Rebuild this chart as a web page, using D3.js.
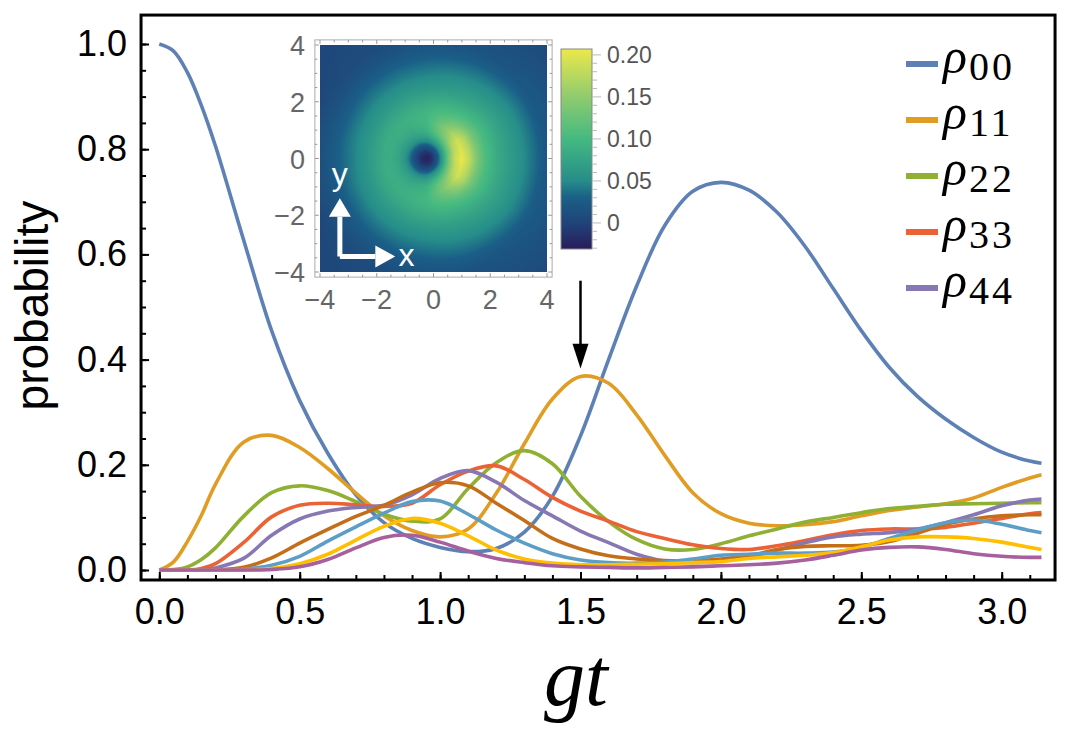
<!DOCTYPE html>
<html>
<head>
<meta charset="utf-8">
<script src="https://cdn.jsdelivr.net/npm/d3@7"></script>
<style>
  body { margin: 0; background: #fff; }
  svg { display: block; }
</style>
</head>
<body>
<div id="chart"></div>
<script>
// ---- data ----
const tValues = [0, 0.05, 0.1, 0.15, 0.2, 0.3, 0.4, 0.5, 0.6, 0.7, 0.8, 0.9, 1.0, 1.1, 1.2, 1.3, 1.4, 1.5,
  1.6, 1.7, 1.8, 1.9, 2.0, 2.1, 2.2, 2.3, 2.4, 2.5, 2.6, 2.7, 2.8, 2.9, 3.0, 3.1, 3.1416];

const rho00 = [1.000, 0.987, 0.946, 0.883, 0.806, 0.628, 0.455, 0.322, 0.222, 0.143, 0.090, 0.060, 0.043, 0.035, 0.041, 0.072, 0.140, 0.255,
  0.400, 0.540, 0.655, 0.720, 0.737, 0.722, 0.680, 0.615, 0.535, 0.455, 0.385, 0.330, 0.287, 0.252, 0.224, 0.207, 0.203];
const rho11 = [0, 0.015, 0.054, 0.104, 0.163, 0.243, 0.256, 0.233, 0.193, 0.146, 0.103, 0.075, 0.063, 0.078, 0.146, 0.240, 0.325, 0.368,
  0.355, 0.295, 0.218, 0.147, 0.107, 0.089, 0.084, 0.086, 0.092, 0.103, 0.113, 0.120, 0.126, 0.137, 0.157, 0.175, 0.181];
const rho22 = [0, 0.001, 0.006, 0.020, 0.042, 0.102, 0.147, 0.160, 0.151, 0.130, 0.106, 0.093, 0.097, 0.155, 0.204, 0.227, 0.202, 0.140,
  0.092, 0.058, 0.040, 0.039, 0.050, 0.065, 0.078, 0.091, 0.100, 0.109, 0.117, 0.121, 0.125, 0.126, 0.127, 0.128, 0.128];
const rho33 = [0, 0, 0, 0.003, 0.012, 0.052, 0.101, 0.123, 0.127, 0.124, 0.121, 0.127, 0.162, 0.188, 0.198, 0.172, 0.138, 0.112,
  0.093, 0.073, 0.060, 0.048, 0.041, 0.039, 0.046, 0.056, 0.067, 0.075, 0.078, 0.078, 0.081, 0.089, 0.098, 0.107, 0.109];
const rho44 = [0, 0, 0, 0, 0.004, 0.022, 0.066, 0.097, 0.112, 0.119, 0.123, 0.143, 0.174, 0.189, 0.167, 0.132, 0.103, 0.074,
  0.052, 0.030, 0.017, 0.014, 0.017, 0.025, 0.038, 0.052, 0.063, 0.068, 0.071, 0.078, 0.090, 0.105, 0.122, 0.133, 0.135];
const rho55 = [0, 0, 0, 0, 0, 0.005, 0.023, 0.051, 0.077, 0.102, 0.123, 0.148, 0.166, 0.160, 0.127, 0.094, 0.060, 0.040,
  0.027, 0.021, 0.018, 0.018, 0.021, 0.027, 0.039, 0.045, 0.046, 0.047, 0.054, 0.070, 0.087, 0.097, 0.103, 0.105, 0.105];
const rho66 = [0, 0, 0, 0, 0, 0.002, 0.009, 0.026, 0.055, 0.082, 0.108, 0.130, 0.131, 0.106, 0.076, 0.051, 0.031, 0.019,
  0.014, 0.013, 0.015, 0.021, 0.028, 0.030, 0.032, 0.032, 0.034, 0.043, 0.060, 0.076, 0.090, 0.095, 0.087, 0.075, 0.071];
const rho77 = [0, 0, 0, 0, 0, 0, 0.003, 0.012, 0.030, 0.057, 0.083, 0.098, 0.089, 0.065, 0.038, 0.021, 0.013, 0.010,
  0.010, 0.011, 0.012, 0.014, 0.016, 0.022, 0.025, 0.028, 0.033, 0.044, 0.057, 0.063, 0.063, 0.060, 0.053, 0.043, 0.039];
const rho88 = [0, 0, 0, 0, 0, 0, 0.001, 0.006, 0.020, 0.042, 0.062, 0.066, 0.053, 0.036, 0.022, 0.014, 0.008, 0.006,
  0.005, 0.004, 0.005, 0.006, 0.008, 0.010, 0.013, 0.019, 0.028, 0.038, 0.043, 0.044, 0.039, 0.031, 0.026, 0.024, 0.024];

const seriesList = [rho00, rho11, rho22, rho33, rho44, rho55, rho66, rho77, rho88];
const seriesColors = ["#5E81B5", "#E19C24", "#8FB032", "#EB6235", "#8778B3",
  "#C56E1A", "#5D9EC7", "#FFBF00", "#A5609D"];
const legendSubs = ["00", "11", "22", "33", "44"];

const xTicks = [0, 0.5, 1.0, 1.5, 2.0, 2.5, 3.0];
const yTicks = [0, 0.2, 0.4, 0.6, 0.8, 1.0];

// inset: phase-space map, sampled along rays leaving the dark dip at (-0.25, 0)
const dipX = -0.25;
const rayAngles = [0, 30, 60, 90, 120, 150, 180];
const rayRadii = [0, 0.2, 0.4, 0.6, 0.8, 1.0, 1.25, 1.5, 1.8, 2.1, 2.5, 2.9, 3.3, 3.7, 4.2, 6.5];
const rayValues = [
  [-0.028, -0.015, 0.025, 0.078, 0.140, 0.185, 0.205, 0.180, 0.135, 0.105, 0.083, 0.068, 0.055, 0.040, 0.022, 0],
  [-0.028, -0.015, 0.022, 0.072, 0.125, 0.168, 0.190, 0.170, 0.130, 0.104, 0.084, 0.068, 0.054, 0.040, 0.023, 0],
  [-0.028, -0.015, 0.020, 0.062, 0.100, 0.130, 0.140, 0.125, 0.105, 0.090, 0.072, 0.058, 0.045, 0.032, 0.017, 0],
  [-0.028, -0.015, 0.015, 0.050, 0.075, 0.090, 0.097, 0.097, 0.090, 0.078, 0.061, 0.048, 0.036, 0.024, 0.011, 0],
  [-0.028, -0.015, 0.012, 0.045, 0.068, 0.080, 0.088, 0.089, 0.081, 0.069, 0.055, 0.042, 0.030, 0.018, 0.008, 0],
  [-0.028, -0.015, 0.010, 0.042, 0.065, 0.078, 0.086, 0.086, 0.076, 0.063, 0.050, 0.037, 0.025, 0.014, 0.005, 0],
  [-0.028, -0.015, 0.008, 0.040, 0.063, 0.077, 0.085, 0.084, 0.073, 0.061, 0.047, 0.035, 0.024, 0.014, 0.005, 0]
];
const insetTicks = [-4, -2, 0, 2, 4];
const barTicks = [0, 0.05, 0.10, 0.15, 0.20];
const barLabels = ["0", "0.05", "0.10", "0.15", "0.20"];
const barStopValues = [-0.031, 0, 0.03, 0.05, 0.10, 0.15, 0.207];
const barStopColors = ["#2a1c5c", "#1f4479", "#1a5f87", "#268d8a", "#44b981", "#8fcb6f", "#ece84a"];

// ---- chart ----
const W = 1072, H = 729;
const sans = "'Liberation Sans', Arial, sans-serif";
const serif = "'Liberation Serif', 'Times New Roman', serif";

const svg = d3.select("#chart").append("svg")
  .attr("width", W).attr("height", H)
  .attr("viewBox", [0, 0, W, H]);
svg.append("rect").attr("width", W).attr("height", H).attr("fill", "#fff");

const x = d3.scaleLinear().domain([0, 3]).range([159.3, 1001.7]);
const y = d3.scaleLinear().domain([0, 1]).range([570, 44]);
const fx0 = x(-0.065), fx1 = x(3.19), fy0 = y(1.055), fy1 = y(-0.019);

// curves
const line = d3.line()
  .x((d, i) => x(tValues[i]))
  .y(d => y(d))
  .curve(d3.curveCatmullRom.alpha(0.5));

svg.append("g")
  .selectAll("path")
  .data(seriesList)
  .join("path")
  .attr("d", line)
  .attr("fill", "none")
  .attr("stroke", (d, i) => seriesColors[i])
  .attr("stroke-width", 3.6)
  .attr("stroke-linejoin", "round");

// axes (ticks pointing inward)
const xAxis = svg.append("g").attr("transform", `translate(0,${fy1})`)
  .call(d3.axisBottom(x).tickValues(xTicks).tickFormat(d3.format(".1f"))
    .tickSize(-8).tickPadding(18));
const xMinor = svg.append("g").attr("transform", `translate(0,${fy1})`)
  .call(d3.axisBottom(x).tickValues(d3.range(0, 3.15, 0.1)).tickFormat("").tickSize(-5));
const yAxis = svg.append("g").attr("transform", `translate(${fx0},0)`)
  .call(d3.axisLeft(y).tickValues(yTicks).tickFormat(d3.format(".1f"))
    .tickSize(-8).tickPadding(14));
const yMinor = svg.append("g").attr("transform", `translate(${fx0},0)`)
  .call(d3.axisLeft(y).tickValues(d3.range(0, 1.01, 0.05)).tickFormat("").tickSize(-5));

[xAxis, xMinor, yAxis, yMinor].forEach(g => {
  g.select(".domain").remove();
  g.selectAll(".tick line").attr("stroke", "#000").attr("stroke-width", 2);
  g.selectAll("text").attr("font-family", sans).attr("font-size", 36).attr("fill", "#000");
});

// frame
svg.append("rect")
  .attr("x", fx0).attr("y", fy0)
  .attr("width", fx1 - fx0).attr("height", fy1 - fy0)
  .attr("fill", "none").attr("stroke", "#000").attr("stroke-width", 3);

// axis labels
svg.append("text")
  .attr("transform", `translate(48,${(fy0 + fy1) / 2 + 8}) rotate(-90)`)
  .attr("text-anchor", "middle")
  .attr("font-family", sans).attr("font-size", 46)
  .text("probability");

svg.append("text")
  .attr("x", 576).attr("y", 705)
  .attr("text-anchor", "middle")
  .attr("font-family", serif).attr("font-style", "italic").attr("font-size", 82)
  .text("gt");

// legend
const legend = svg.append("g");
legendSubs.forEach((s, i) => {
  const ly = 64 + i * 56;
  legend.append("line")
    .attr("x1", 906).attr("x2", 938).attr("y1", ly).attr("y2", ly)
    .attr("stroke", seriesColors[i]).attr("stroke-width", 6);
  const t = legend.append("text").attr("x", 943).attr("y", ly + 9)
    .attr("font-family", serif);
  t.append("tspan").attr("font-style", "italic").attr("font-size", 50).text("ρ");
  t.append("tspan").attr("font-size", 40).attr("letter-spacing", 3)
    .attr("dx", 2).attr("dy", 7).text(s);
});

// arrow marking gt = 1.5
svg.append("line")
  .attr("x1", x(1.5)).attr("x2", x(1.5))
  .attr("y1", y(0.55)).attr("y2", y(0.42))
  .attr("stroke", "#000").attr("stroke-width", 2.5);
svg.append("path")
  .attr("d", `M${x(1.5) - 8},${y(0.43)} L${x(1.5) + 8},${y(0.43)} L${x(1.5)},${y(0.383)} Z`)
  .attr("fill", "#000");

// ---- inset ----
const xi = d3.scaleLinear().domain([-4, 4]).range([320, 547]);
const yi = d3.scaleLinear().domain([-4, 4]).range([272, 45]);
const color = d3.scaleLinear().domain(barStopValues).range(barStopColors).clamp(true);

// look up the ray table (angle is mirrored, the map is symmetric in y)
function mapValue(px, py) {
  const dx = px - dipX, dy = py;
  const r = Math.hypot(dx, dy);
  const a = Math.abs(Math.atan2(dy, dx)) * 180 / Math.PI;
  const step = rayAngles[1] - rayAngles[0];
  const ai = Math.min(Math.floor(a / step), rayAngles.length - 2);
  const fa = (a - rayAngles[ai]) / step;
  let ri = 0;
  while (ri < rayRadii.length - 2 && r > rayRadii[ri + 1]) ri++;
  const fr = Math.min(1, (r - rayRadii[ri]) / (rayRadii[ri + 1] - rayRadii[ri]));
  const v = p => p[ri] * (1 - fr) + p[ri + 1] * fr;
  return v(rayValues[ai]) * (1 - fa) + v(rayValues[ai + 1]) * fa;
}

const iw = Math.round(xi(4) - xi(-4)), ih = Math.round(yi(-4) - yi(4));
const canvas = document.createElement("canvas");
canvas.width = iw; canvas.height = ih;
const ctx = canvas.getContext("2d");
const img = ctx.createImageData(iw, ih);
for (let j = 0; j < ih; j++) {
  for (let i = 0; i < iw; i++) {
    const c = d3.rgb(color(mapValue(xi.invert(xi(-4) + i + 0.5), yi.invert(yi(4) + j + 0.5))));
    const k = (j * iw + i) * 4;
    img.data[k] = c.r; img.data[k + 1] = c.g; img.data[k + 2] = c.b; img.data[k + 3] = 255;
  }
}
ctx.putImageData(img, 0, 0);

const inset = svg.append("g");
inset.append("rect")
  .attr("x", xi(-4.18)).attr("y", yi(4.18))
  .attr("width", xi(4.18) - xi(-4.18)).attr("height", yi(-4.18) - yi(4.18))
  .attr("fill", "#fff").attr("stroke", "#aaa").attr("stroke-width", 1);
inset.append("image")
  .attr("x", xi(-4)).attr("y", yi(4)).attr("width", iw).attr("height", ih)
  .attr("href", canvas.toDataURL());

// inset ticks on all four sides
const ix0 = xi(-4.18), ix1 = xi(4.18), iy0 = yi(4.18), iy1 = yi(-4.18);
d3.range(-4, 4.01, 0.5).forEach(v => {
  const len = Number.isInteger(v / 2) ? 4 : 2.5;
  inset.append("line").attr("x1", xi(v)).attr("x2", xi(v)).attr("y1", iy1).attr("y2", iy1 - len);
  inset.append("line").attr("x1", xi(v)).attr("x2", xi(v)).attr("y1", iy0).attr("y2", iy0 + len);
  inset.append("line").attr("y1", yi(v)).attr("y2", yi(v)).attr("x1", ix0).attr("x2", ix0 + len);
  inset.append("line").attr("y1", yi(v)).attr("y2", yi(v)).attr("x1", ix1).attr("x2", ix1 - len);
});
inset.selectAll("line").attr("stroke", "#999").attr("stroke-width", 1);

const fmtInset = d => (d < 0 ? "\u2212" + Math.abs(d) : String(d));
inset.selectAll("text.xl").data(insetTicks).join("text")
  .attr("x", d => xi(d)).attr("y", 309)
  .attr("text-anchor", "middle")
  .text(fmtInset);
inset.selectAll("text.yl").data(insetTicks).join("text")
  .attr("x", 305).attr("y", d => yi(d) + 10)
  .attr("text-anchor", "end")
  .text(fmtInset);
inset.selectAll("text").attr("font-family", sans).attr("font-size", 27).attr("fill", "#666");

// white x / y arrows inside the map
const ax = xi(-3.3), ay = yi(-3.45);
inset.append("path")
  .attr("d", `M${ax},${ay} V${yi(-2.05)} M${ax},${ay} H${xi(-2.05)}`)
  .attr("stroke", "#fff").attr("stroke-width", 5).attr("fill", "none");
inset.append("path")
  .attr("d", `M${ax - 11},${yi(-2.05)} L${ax + 11},${yi(-2.05)} L${ax},${yi(-1.4)} Z
              M${xi(-2.05)},${ay - 11} L${xi(-2.05)},${ay + 11} L${xi(-1.35)},${ay} Z`)
  .attr("fill", "#fff");
inset.append("text").attr("x", ax).attr("y", yi(-0.95))
  .attr("text-anchor", "middle").attr("font-family", sans).attr("font-size", 32)
  .attr("fill", "#fff").text("y");
inset.append("text").attr("x", xi(-0.95)).attr("y", ay + 10)
  .attr("text-anchor", "middle").attr("font-family", sans).attr("font-size", 32)
  .attr("fill", "#fff").text("x");

// colour bar
const cb = d3.scaleLinear().domain([-0.031, 0.207]).range([249, 49]);
const defs = svg.append("defs");
const grad = defs.append("linearGradient").attr("id", "cbar")
  .attr("x1", 0).attr("y1", 1).attr("x2", 0).attr("y2", 0);
d3.range(0, 1.001, 0.02).forEach(f => {
  const v = -0.031 + f * 0.238;
  grad.append("stop").attr("offset", f).attr("stop-color", color(v));
});
inset.append("rect")
  .attr("x", 561).attr("y", cb(0.207)).attr("width", 31).attr("height", cb(-0.031) - cb(0.207))
  .attr("fill", "url(#cbar)").attr("stroke", "#888").attr("stroke-width", 1);
d3.range(-0.03, 0.2051, 0.01).forEach(v => {
  const major = barTicks.some(b => Math.abs(b - v) < 1e-6);
  inset.append("line")
    .attr("x1", 592).attr("x2", major ? 601 : 597)
    .attr("y1", cb(v)).attr("y2", cb(v))
    .attr("stroke", "#bbb").attr("stroke-width", 1);
});
inset.selectAll("text.cb").data(barTicks).join("text")
  .attr("class", "cb")
  .attr("x", 607).attr("y", d => cb(d) + 8)
  .attr("font-family", sans).attr("font-size", 23).attr("fill", "#555")
  .text((d, i) => barLabels[i]);
</script>
</body>
</html>
